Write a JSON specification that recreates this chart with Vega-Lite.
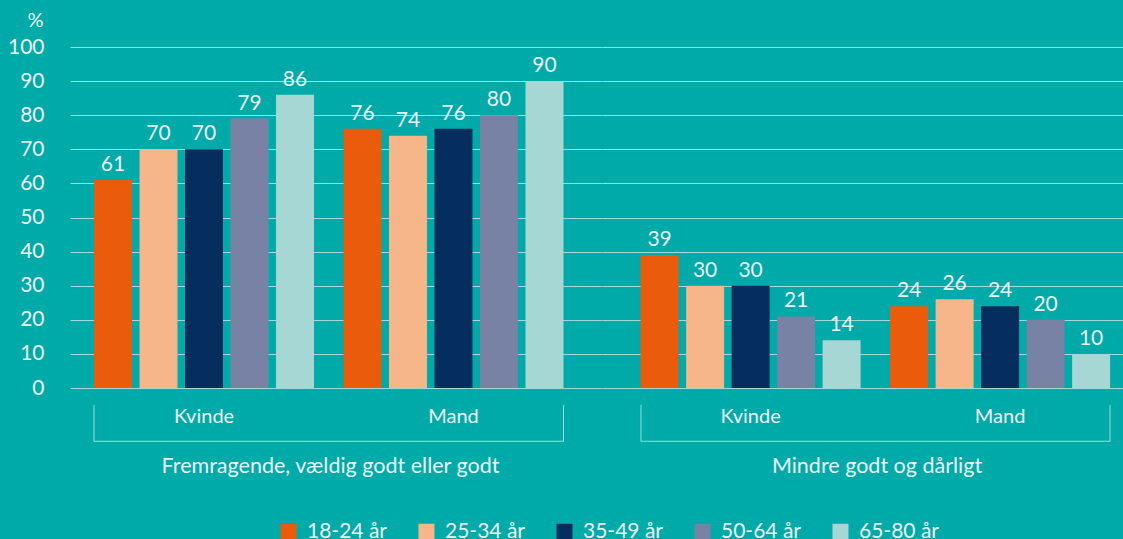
{
  "$schema": "https://vega.github.io/schema/vega-lite/v6.json",
  "background": "#00aaa9",
  "padding": {"left": 7, "top": 10, "right": 0, "bottom": 0},
  "spacing": 0,
  "config": {
    "view": {"stroke": null},
    "font": "Lato",
    "concat": {"spacing": 0}
  },
  "datasets": {
    "d": [
      {"group": "Fremragende, vældig godt eller godt", "sex": "Kvinde", "age": "18-24 år", "value": 61},
      {"group": "Fremragende, vældig godt eller godt", "sex": "Kvinde", "age": "25-34 år", "value": 70},
      {"group": "Fremragende, vældig godt eller godt", "sex": "Kvinde", "age": "35-49 år", "value": 70},
      {"group": "Fremragende, vældig godt eller godt", "sex": "Kvinde", "age": "50-64 år", "value": 79},
      {"group": "Fremragende, vældig godt eller godt", "sex": "Kvinde", "age": "65-80 år", "value": 86},
      {"group": "Fremragende, vældig godt eller godt", "sex": "Mand", "age": "18-24 år", "value": 76},
      {"group": "Fremragende, vældig godt eller godt", "sex": "Mand", "age": "25-34 år", "value": 74},
      {"group": "Fremragende, vældig godt eller godt", "sex": "Mand", "age": "35-49 år", "value": 76},
      {"group": "Fremragende, vældig godt eller godt", "sex": "Mand", "age": "50-64 år", "value": 80},
      {"group": "Fremragende, vældig godt eller godt", "sex": "Mand", "age": "65-80 år", "value": 90},
      {"group": "Mindre godt og dårligt", "sex": "Kvinde", "age": "18-24 år", "value": 39},
      {"group": "Mindre godt og dårligt", "sex": "Kvinde", "age": "25-34 år", "value": 30},
      {"group": "Mindre godt og dårligt", "sex": "Kvinde", "age": "35-49 år", "value": 30},
      {"group": "Mindre godt og dårligt", "sex": "Kvinde", "age": "50-64 år", "value": 21},
      {"group": "Mindre godt og dårligt", "sex": "Kvinde", "age": "65-80 år", "value": 14},
      {"group": "Mindre godt og dårligt", "sex": "Mand", "age": "18-24 år", "value": 24},
      {"group": "Mindre godt og dårligt", "sex": "Mand", "age": "25-34 år", "value": 26},
      {"group": "Mindre godt og dårligt", "sex": "Mand", "age": "35-49 år", "value": 24},
      {"group": "Mindre godt og dårligt", "sex": "Mand", "age": "50-64 år", "value": 20},
      {"group": "Mindre godt og dårligt", "sex": "Mand", "age": "65-80 år", "value": 10}
    ]
  },
  "resolve": {"scale": {"color": "shared"}, "legend": {"color": "shared"}},
  "hconcat": [
    {
      "width": 532,
      "height": 341,
      "data": {"name": "d"},
      "transform": [{"filter": "datum.group === 'Fremragende, vældig godt eller godt'"}],
      "resolve": {"scale": {"x": "independent"}, "axis": {"y": "independent"}},
      "layer": [
        {
          "encoding": {
            "x": {
              "field": "sex", "type": "nominal", "sort": ["Kvinde", "Mand"],
              "scale": {"paddingInner": 0.1182, "paddingOuter": 0.1253, "align": 0.384},
              "axis": {
                "domain": false, "ticks": false, "labelAngle": 0, "labelPadding": 18,
                "labelFontSize": 20, "labelColor": "#eaf6f6", "labelFont": "Lato",
                "title": "Fremragende, vældig godt eller godt", "titleFont": "Lato",
                "titleFontSize": 21.5, "titleFontWeight": "normal", "titleColor": "#eaf6f6",
                "titleX": 260, "titleY": 67, "titleAlign": "center", "titleBaseline": "top"
              }
            },
            "xOffset": {
              "field": "age", "type": "nominal",
              "sort": ["18-24 år", "25-34 år", "35-49 år", "50-64 år", "65-80 år"],
              "scale": {"paddingInner": 0.165, "paddingOuter": 0}
            },
            "y": {
              "field": "value", "type": "quantitative",
              "scale": {"domain": [0, 100], "nice": false},
              "axis": {
                "values": [0, 10, 20, 30, 40, 50, 60, 70, 80, 90, 100],
                "labelOverlap": false,
                "domain": false, "ticks": false, "grid": true,
                "gridColor": "#9fdbd9", "gridWidth": 1,
                "labelPadding": 26, "labelFontSize": 21, "labelColor": "#eaf6f6", "labelFont": "Lato",
                "title": "%", "titleAngle": 0, "titleX": -27, "titleY": -27,
                "titleAlign": "right", "titleBaseline": "middle",
                "titleFontSize": 20, "titleFontWeight": "normal", "titleColor": "#eaf6f6", "titleFont": "Lato"
              }
            }
          },
          "layer": [
            {
              "mark": {"type": "bar"},
              "encoding": {
                "color": {
                  "field": "age", "type": "nominal",
                  "scale": {
                    "domain": ["18-24 år", "25-34 år", "35-49 år", "50-64 år", "65-80 år"],
                    "range": ["#ea5b0c", "#f7b689", "#052d5e", "#7882a4", "#a6d7d5"]
                  },
                  "legend": {
                    "orient": "none", "direction": "horizontal", "legendX": 208, "legendY": 474,
                    "padding": 0, "title": null, "symbolType": "square", "symbolSize": 256, "symbolStrokeWidth": 0,
                    "labelFontSize": 21, "labelColor": "#eaf6f6", "labelFont": "Lato",
                    "columnPadding": 29, "labelOffset": 8
                  }
                }
              }
            },
            {
              "mark": {"type": "text", "baseline": "alphabetic", "dy": -9, "fontSize": 21, "color": "#eaf6f6", "font": "Lato"},
              "encoding": {"text": {"field": "value", "type": "quantitative"}}
            }
          ]
        },
        {
          "transform": [{"aggregate": [], "groupby": ["group"]}],
          "encoding": {
            "x": {
              "field": "group", "type": "nominal",
              "scale": {"paddingInner": 0, "paddingOuter": 0.0666, "align": 0.384},
              "axis": null
            }
          },
          "layer": [
            {
              "mark": {"type": "bar", "color": "#9fdbd9"},
              "encoding": {"y": {"datum": -15.45, "axis": null}, "y2": {"datum": -15.75}}
            },
            {
              "mark": {"type": "rule", "color": "#9fdbd9", "strokeWidth": 1},
              "encoding": {"x": {"field": "group", "type": "nominal", "bandPosition": 0}, "y": {"datum": -5, "axis": null}, "y2": {"datum": -15.75}}
            },
            {
              "mark": {"type": "rule", "color": "#9fdbd9", "strokeWidth": 1},
              "encoding": {"x": {"field": "group", "type": "nominal", "bandPosition": 1}, "y": {"datum": -5, "axis": null}, "y2": {"datum": -15.75}}
            }
          ]
        }
      ]
    },
    {
      "width": 521,
      "height": 341,
      "data": {"name": "d"},
      "transform": [{"filter": "datum.group === 'Mindre godt og dårligt'"}],
      "resolve": {"scale": {"x": "independent"}, "axis": {"y": "independent"}},
      "layer": [
        {
          "encoding": {
            "x": {
              "field": "sex", "type": "nominal", "sort": ["Kvinde", "Mand"],
              "scale": {"paddingInner": 0.1182, "paddingOuter": 0.1032, "align": 0.75},
              "axis": {
                "domain": false, "ticks": false, "labelAngle": 0, "labelPadding": 18,
                "labelFontSize": 20, "labelColor": "#eaf6f6", "labelFont": "Lato",
                "title": "Mindre godt og dårligt", "titleFont": "Lato",
                "titleFontSize": 21.5, "titleFontWeight": "normal", "titleColor": "#eaf6f6",
                "titleX": 274.5, "titleY": 67, "titleAlign": "center", "titleBaseline": "top"
              }
            },
            "xOffset": {
              "field": "age", "type": "nominal",
              "sort": ["18-24 år", "25-34 år", "35-49 år", "50-64 år", "65-80 år"],
              "scale": {"paddingInner": 0.165, "paddingOuter": 0}
            },
            "y": {
              "field": "value", "type": "quantitative",
              "scale": {"domain": [0, 100], "nice": false},
              "axis": {
                "values": [0, 10, 20, 30, 40, 50, 60, 70, 80, 90, 100],
                "domain": false, "ticks": false, "labels": false, "grid": true,
                "gridColor": "#9fdbd9", "gridWidth": 1, "title": null
              }
            }
          },
          "layer": [
            {
              "mark": {"type": "bar"},
              "encoding": {
                "color": {
                  "field": "age", "type": "nominal",
                  "scale": {
                    "domain": ["18-24 år", "25-34 år", "35-49 år", "50-64 år", "65-80 år"],
                    "range": ["#ea5b0c", "#f7b689", "#052d5e", "#7882a4", "#a6d7d5"]
                  }
                }
              }
            },
            {
              "mark": {"type": "text", "baseline": "alphabetic", "dy": -9, "fontSize": 21, "color": "#eaf6f6", "font": "Lato"},
              "encoding": {"text": {"field": "value", "type": "quantitative"}}
            }
          ]
        },
        {
          "transform": [{"aggregate": [], "groupby": ["group"]}],
          "encoding": {
            "x": {
              "field": "group", "type": "nominal",
              "scale": {"paddingInner": 0, "paddingOuter": 0.0554, "align": 0.75},
              "axis": null
            }
          },
          "layer": [
            {
              "mark": {"type": "bar", "color": "#9fdbd9"},
              "encoding": {"y": {"datum": -15.45, "axis": null}, "y2": {"datum": -15.75}}
            },
            {
              "mark": {"type": "rule", "color": "#9fdbd9", "strokeWidth": 1},
              "encoding": {"x": {"field": "group", "type": "nominal", "bandPosition": 0}, "y": {"datum": -5, "axis": null}, "y2": {"datum": -15.75}}
            },
            {
              "mark": {"type": "rule", "color": "#9fdbd9", "strokeWidth": 1},
              "encoding": {"x": {"field": "group", "type": "nominal", "bandPosition": 1}, "y": {"datum": -5, "axis": null}, "y2": {"datum": -15.75}}
            }
          ]
        }
      ]
    }
  ]
}
